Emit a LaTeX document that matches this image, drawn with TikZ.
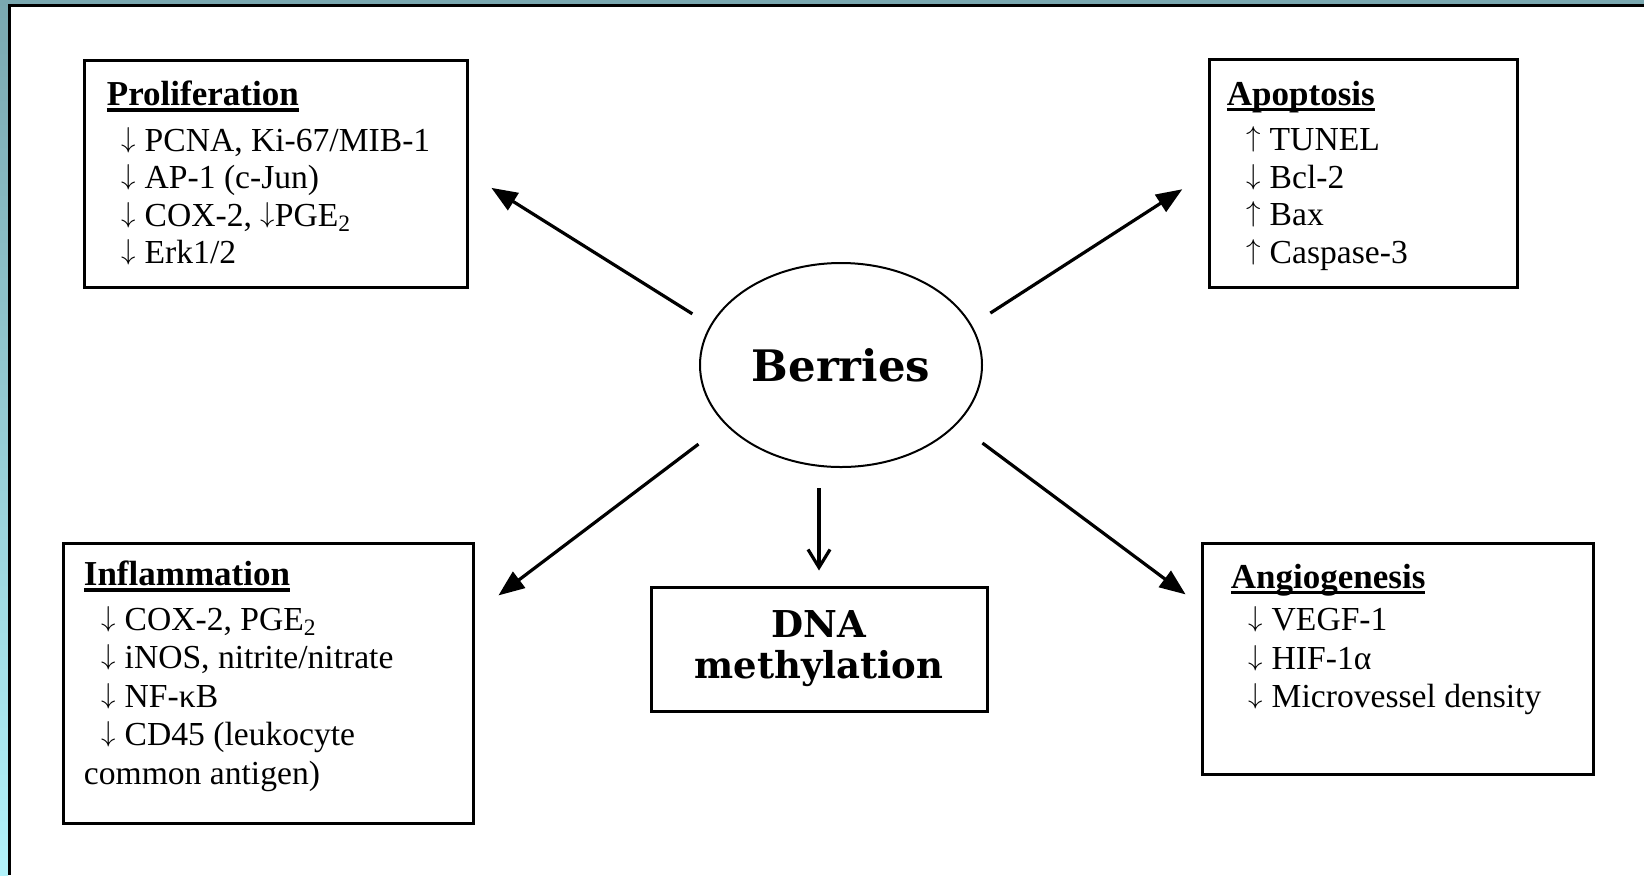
\documentclass[tikz,border=0pt]{standalone}
\usepackage{fontspec}
\usepackage{xcolor}
\setmainfont{Liberation Serif}
\newfontfamily\labelfont{DejaVu Serif}
\usetikzlibrary{arrows.meta,calc,shapes.geometric}

% Bold heading with a thick underline
\newcommand{\heading}[1]{{\fontsize{17.5}{18.75}\selectfont\setbox0\hbox{\bfseries #1}\rlap{\rule[-3pt]{\wd0}{1.6pt}}\box0}}
% Up and down marks in the lists
\newcommand{\dn}{\raisebox{2pt}{\fontsize{14}{14}\selectfont$\downarrow$}}
\newcommand{\up}{\raisebox{2pt}{\fontsize{14}{14}\selectfont$\uparrow$}}

\begin{document}
\begin{tikzpicture}[x=0.5pt, y=-0.5pt,
    box/.style={draw, line width=1.5pt, inner sep=0pt},
    list/.style={align=left, inner sep=0pt, anchor=north west, font=\fontsize{16.8}{18.75}\selectfont},
    link/.style={line width=1.6pt, -{Triangle[length=13pt,width=10pt]}},
    drop/.style={line width=1.6pt, -{Straight Barb[length=9pt,width=11pt]}}]

    % Define the frame colours
    \definecolor{frameteal}{RGB}{122,168,176}
    \definecolor{framecyan}{RGB}{178,242,250}

    \useasboundingbox (0,0) rectangle (1644,875);

    % Draw the slide frame
    \fill[white] (0,0) rectangle (1644,875);
    \shade[top color=frameteal, bottom color=framecyan] (0,0) rectangle (8,875);
    \fill[frameteal] (8,0) rectangle (1644,4);
    \fill[black] (8,4) rectangle (1644,7);
    \fill[black] (8,4) rectangle (11,875);

    % Draw the central ellipse
    \node[ellipse, draw, line width=1pt, minimum width=141pt, minimum height=102pt, inner sep=0pt,
          font=\labelfont\bfseries\fontsize{21.7}{26}\selectfont] (berries) at (841,365) {Berries};

    % Draw the four boxes
    \node[box, minimum width=191.5pt, minimum height=113.5pt] (prolif) at (275.5,173.5) {};
    \node[box, minimum width=154pt, minimum height=114pt] (apop) at (1363,173) {};
    \node[box, minimum width=205pt, minimum height=140pt] (inflam) at (268,683) {};
    \node[box, minimum width=195.5pt, minimum height=115.5pt] (angio) at (1397.5,658.5) {};

    % Draw the DNA box
    \node[box, minimum width=168pt, minimum height=62pt, align=center,
          font=\labelfont\bfseries\fontsize{18.5}{20.5}\selectfont] (dna) at (819,649) {DNA\\methylation};

    % Fill the boxes
    \node[list] (prolif-txt) at ($(prolif.north west)+(24,22)$) {\heading{Proliferation}\\[4pt]
        \hspace*{7.5pt}\dn\ PCNA, Ki-67/MIB-1\\
        \hspace*{7.5pt}\dn\ AP-1 (c-Jun)\\
        \hspace*{7.5pt}\dn\ COX-2, \dn PGE\textsubscript{2}\\
        \hspace*{7.5pt}\dn\ Erk1/2};
    \node[list] (apop-txt) at ($(apop.north west)+(19,23)$) {\heading{Apoptosis}\\[4pt]
        \hspace*{10pt}\up\ TUNEL\\
        \hspace*{10pt}\dn\ Bcl-2\\
        \hspace*{10pt}\up\ Bax\\
        \hspace*{10pt}\up\ Caspase-3};
    \node[list, font=\fontsize{16.8}{19.25}\selectfont] (inflam-txt) at ($(inflam.north west)+(22,19)$) {\heading{Inflammation}\\[3pt]
        \hspace*{9pt}\dn\ COX-2, PGE\textsubscript{2}\\
        \hspace*{9pt}\dn\ iNOS, nitrite/nitrate\\
        \hspace*{9pt}\dn\ NF-κB\\
        \hspace*{9pt}\dn\ CD45 (leukocyte\\
        common antigen)};
    \node[list, font=\fontsize{16.8}{19.25}\selectfont] (angio-txt) at ($(angio.north west)+(30,22)$) {\heading{Angiogenesis}\\[2pt]
        \hspace*{9pt}\dn\ VEGF-1\\
        \hspace*{9pt}\dn\ HIF-1α\\
        \hspace*{9pt}\dn\ Microvessel density};

    % Arrows from the ellipse to the boxes
    \draw[link, shorten <=10.5pt, shorten >=13.5pt] (berries.163) -- (prolif.east);
    \draw[link, shorten <=11pt, shorten >=15pt] (berries.17) -- (apop.west);
    \draw[link, shorten <=16.5pt, shorten >=15pt] (berries.207) -- ($(inflam.north east)+(0,72)$);
    \draw[link, shorten <=15.75pt, shorten >=9.3pt] (berries.333) -- ($(angio.north west)+(0,64)$);

    % Arrow down to the DNA box
    \draw[drop, shorten <=10pt, shorten >=7.5pt] (berries.south -| dna.north) -- (dna.north);

\end{tikzpicture}
\end{document}
